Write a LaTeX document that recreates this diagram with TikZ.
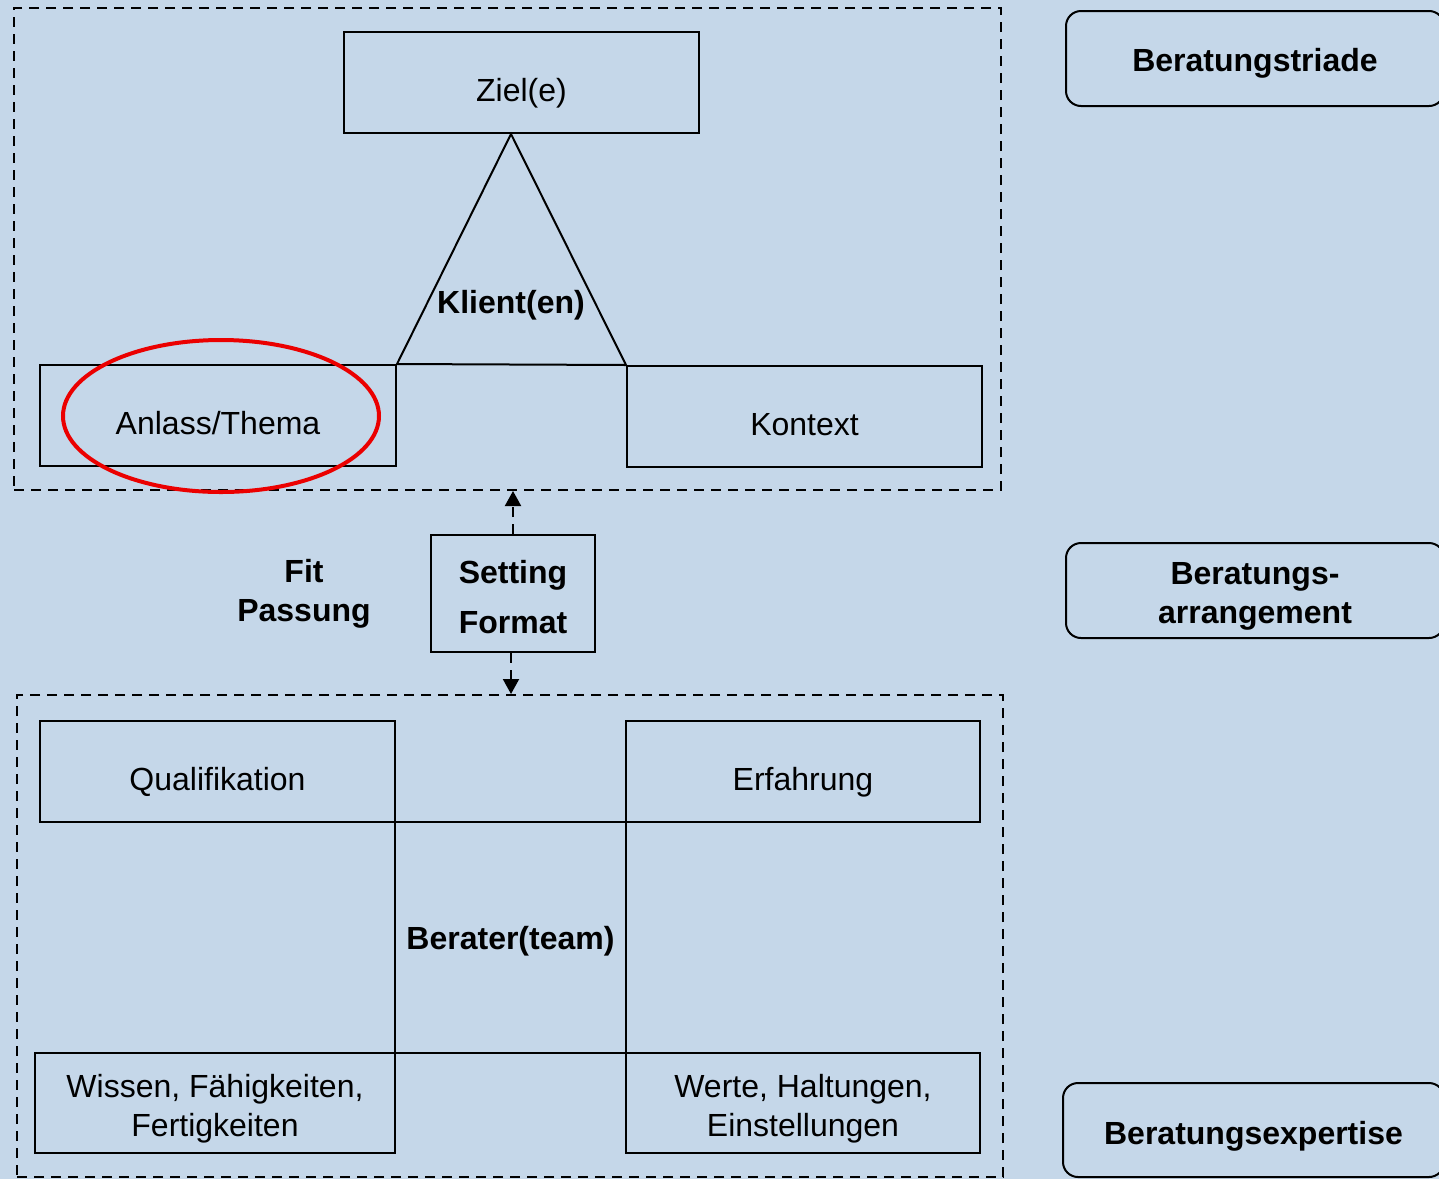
\documentclass[tikz,border=0pt]{standalone}
\usepackage{fontspec}
\setmainfont{Liberation Sans}
\usetikzlibrary{arrows.meta}
\definecolor{bg}{RGB}{197,215,233}
\definecolor{ringred}{RGB}{235,0,0}
\newcommand{\lowr}[1]{\rule{0pt}{#1}}
\begin{document}
\begin{tikzpicture}[x=0.5pt,y=-0.5pt,
  txt/.style={font=\fontsize{16}{19.5}\selectfont, align=center},
  box/.style={draw, line width=1pt, inner sep=0pt, txt},
  onebox/.style={box, text height=19pt, text depth=0pt},
  rbox/.style={draw, line width=1pt, rounded corners=7.5pt, inner sep=0pt, txt, font=\fontsize{16}{19.5}\selectfont\bfseries},
  dashbox/.style={draw, line width=1pt, dash pattern=on 5pt off 3.5pt, inner sep=0pt},
  lbl/.style={inner sep=0pt, txt, font=\fontsize{16}{19.5}\selectfont\bfseries},
  darrow/.style={line width=1pt, dash pattern=on 5pt off 3.5pt, -{Triangle[length=7.5pt,width=8pt]}}]
\useasboundingbox (0,0) rectangle (1439,1179);
\fill[bg] (0,0) rectangle (1439,1179);
\clip (0,0) rectangle (1439,1179);

% dashed frames
\node[dashbox, minimum width=493.5pt, minimum height=241pt] (top) at (507.5,249) {};
\node[dashbox, minimum width=493pt, minimum height=241pt] (bottom) at (510,936) {};

% Beratungstriade
\node[onebox, minimum width=177.5pt, minimum height=50.5pt] (ziel) at (521.5,82.5) {Ziel(e)};
\node[onebox, minimum width=178pt, minimum height=50.5pt] (anlass) at (218,415.5) {Anlass/Thema};
\node[onebox, minimum width=177.5pt, minimum height=50.5pt] (kontext) at (804.5,416.5) {Kontext};
\coordinate (apex) at (511,134);
\draw[line width=1pt] (anlass.north east) -- (apex) -- (kontext.north west) -- cycle;
\node[lbl] (klient) at (511,305) {Klient(en)};
\draw[ringred, line width=2pt] (221,416) ellipse [x radius=79pt, y radius=38pt];

% Beratungsarrangement
\node[box, minimum width=82pt, minimum height=58.5pt, font=\fontsize{16}{25}\selectfont\bfseries] (setting) at (513,593.5) {\lowr{14.7pt}Setting\\Format};
\node[lbl] (fit) at (304,594) {Fit\\Passung};
\draw[darrow] (setting.north) -- (setting.north |- top.south);
\draw[darrow] ([xshift=-1pt]setting.south) -- ([xshift=-1pt]setting.south |- bottom.north);

% Beratungsexpertise
\node[onebox, minimum width=177.5pt, minimum height=50.5pt] (quali) at (217.5,771.5) {Qualifikation};
\node[onebox, minimum width=177pt, minimum height=50.5pt] (erfahrung) at (803,771.5) {Erfahrung};
\node[box, minimum width=115.5pt, minimum height=115.5pt, text height=12.2pt, text depth=0pt, font=\fontsize{16}{19.5}\selectfont\bfseries] (berater) at (510.5,937.5) {Berater(team)};
\node[box, minimum width=180pt, minimum height=50pt] (wissen) at (215,1103) {\lowr{17.7pt}Wissen, Fähigkeiten,\\Fertigkeiten};
\node[box, minimum width=177pt, minimum height=50pt] (werte) at (803,1103) {\lowr{17.7pt}Werte, Haltungen,\\Einstellungen};

% right-hand labels
\node[rbox, minimum width=189pt, minimum height=47.5pt, text height=13.4pt, text depth=0pt] (triade) at (1255,58.5) {Beratungstriade};
\node[rbox, minimum width=189pt, minimum height=47.5pt] (arrangement) at (1255,590.5) {\lowr{16.7pt}Beratungs-\\arrangement};
\node[rbox, minimum width=190.5pt, minimum height=47pt, text height=14pt, text depth=0pt] (expertise) at (1253.5,1130) {Beratungsexpertise};
\end{tikzpicture}
\end{document}
